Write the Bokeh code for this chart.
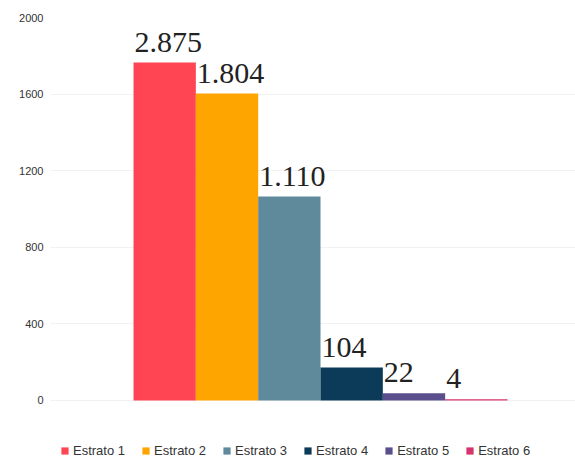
from bokeh.plotting import figure
from bokeh.models import ColumnDataSource, FixedTicker, Range1d, Legend, LegendItem
from bokeh.core.properties import value
from bokeh.embed import file_html
from bokeh.resources import INLINE

categories = ["Estrato 1", "Estrato 2", "Estrato 3", "Estrato 4", "Estrato 5", "Estrato 6"]
heights = [1765, 1603, 1065, 172, 38, 6]
labels = ["2.875", "1.804", "1.110", "104", "22", "4"]
colors = ["#FF4554", "#FFA500", "#5F8A9C", "#0B3B58", "#5A4F8C", "#D6336C"]
y_ticks = [0, 400, 800, 1200, 1600, 2000]

xs = list(range(len(categories)))
src = ColumnDataSource(dict(x=xs, top=heights, cat=categories, color=colors,
                            lab=labels, left=[v - 0.5 for v in xs]))

p = figure(width=575, height=458, output_backend="svg", toolbar_location=None,
           x_range=Range1d(-1.832, 6.591), y_range=Range1d(-303, 2000),
           min_border_left=50, min_border_right=0, min_border_top=17, min_border_bottom=0)
p.outline_line_color = None
p.xaxis.visible = False
p.xgrid.visible = False
p.ygrid.grid_line_color = "#f2f2f2"
p.yaxis.ticker = FixedTicker(ticks=y_ticks)
p.yaxis.axis_line_color = None
p.yaxis.major_tick_line_color = None
p.yaxis.minor_tick_line_color = None
p.yaxis.major_tick_out = 0
p.yaxis.major_label_standoff = 7
p.yaxis.major_label_text_font = "Liberation Sans"
p.yaxis.major_label_text_font_size = "11px"
p.yaxis.major_label_text_color = "#333333"

r = p.vbar(x="x", top="top", bottom=0, width=1.0, fill_color="color", line_color=None, source=src)

p.text(x="left", y="top", text="lab", source=src, x_offset=1, y_offset=-11,
       text_align="left", text_baseline="bottom",
       text_font=value("Liberation Serif"), text_font_size="30px", text_color="#222222")

items = [LegendItem(label=c, renderers=[r], index=i) for i, c in enumerate(categories)]
legend = Legend(items=items, orientation="horizontal", location=(10, 0),
                glyph_width=9, glyph_height=9, label_standoff=4, spacing=16,
                padding=0, margin=0, border_line_color=None, background_fill_alpha=0,
                label_text_font="Liberation Sans", label_text_font_size="13px",
                label_text_color="#333333")
p.add_layout(legend, "center")

open("out.html", "w").write(file_html(p, INLINE))
